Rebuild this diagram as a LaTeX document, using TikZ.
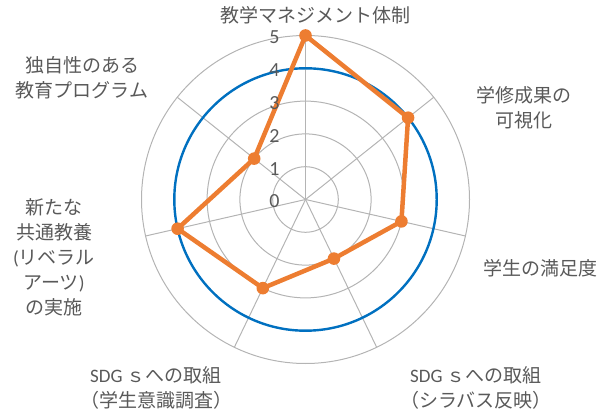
\documentclass[tikz,border=0pt]{standalone}
\usepackage{fontspec}
\setmainfont{Carlito}
\newfontfamily\jp{Noto Sans CJK JP}
\usetikzlibrary{calc}
\definecolor{txt}{HTML}{595959}
\definecolor{gridc}{HTML}{B4B4B4}
\definecolor{orng}{HTML}{ED7D31}
\definecolor{blu}{HTML}{0070C0}
\tikzset{
  gridline/.style={draw=gridc, line width=1pt},
  target/.style={draw=blu, line width=2.4pt},
  series/.style={draw=orng, line width=4.5pt, line join=round},
  dot/.style={fill=orng},
  tick/.style={text=txt, font=\fontsize{20}{20}\selectfont, inner sep=0pt},
  axlabel/.style={text=txt, font=\jp\fontsize{19}{25}\selectfont, align=center, inner sep=0pt},
}
\begin{document}
\begin{tikzpicture}[x=1pt,y=-1pt]
\useasboundingbox (0,0) rectangle (599,411);
\coordinate (O) at (305.5,199.5);
% rings
\foreach \r in {1,...,5} \draw[gridline] (O) circle[radius=\r*32.8pt];
% spokes
\foreach \i in {0,...,6} \draw[gridline] (O) -- ++({90-\i*360/7}:164pt);
% target circle
\draw[target] (O) circle[radius=4*32.8pt];
% data points
\foreach \i/\v in {0/5,1/4,2/3,3/2,4/3,5/4,6/2}
  \path (O) ++({90-\i*360/7}:{\v*32.8pt}) coordinate (p\i);
\draw[series] (p0) -- (p1) -- (p2) -- (p3) -- (p4) -- (p5) -- (p6) -- cycle;
\foreach \i in {0,...,6} \fill[dot] (p\i) circle[radius=6.3pt];
% scale numbers
\foreach \k in {0,...,5}
  \node[tick] (t\k) at (274.5,{201.5-\k*32.8}) {\k};
% axis labels
\node[axlabel] (l0) at (315,15) {教学マネジメント体制};
\node[axlabel] (l1) at (524,107.5) {学修成果の\\可視化};
\node[axlabel] (l2) at (540,268) {学生の満足度};
\node[axlabel] (l3) at (476,388) {{\rmfamily SDG }ｓへの取組\\（シラバス反映）};
\node[axlabel] (l4) at (156,388) {{\rmfamily SDG }ｓへの取組\\（学生意識調査）};
\node[axlabel] (l5) at (54,257) {新たな\\共通教養\\{\rmfamily(}リベラル\\アーツ{\rmfamily)}\\の実施};
\node[axlabel] (l6) at (82,78) {独自性のある\\教育プログラム};
\end{tikzpicture}
\end{document}
